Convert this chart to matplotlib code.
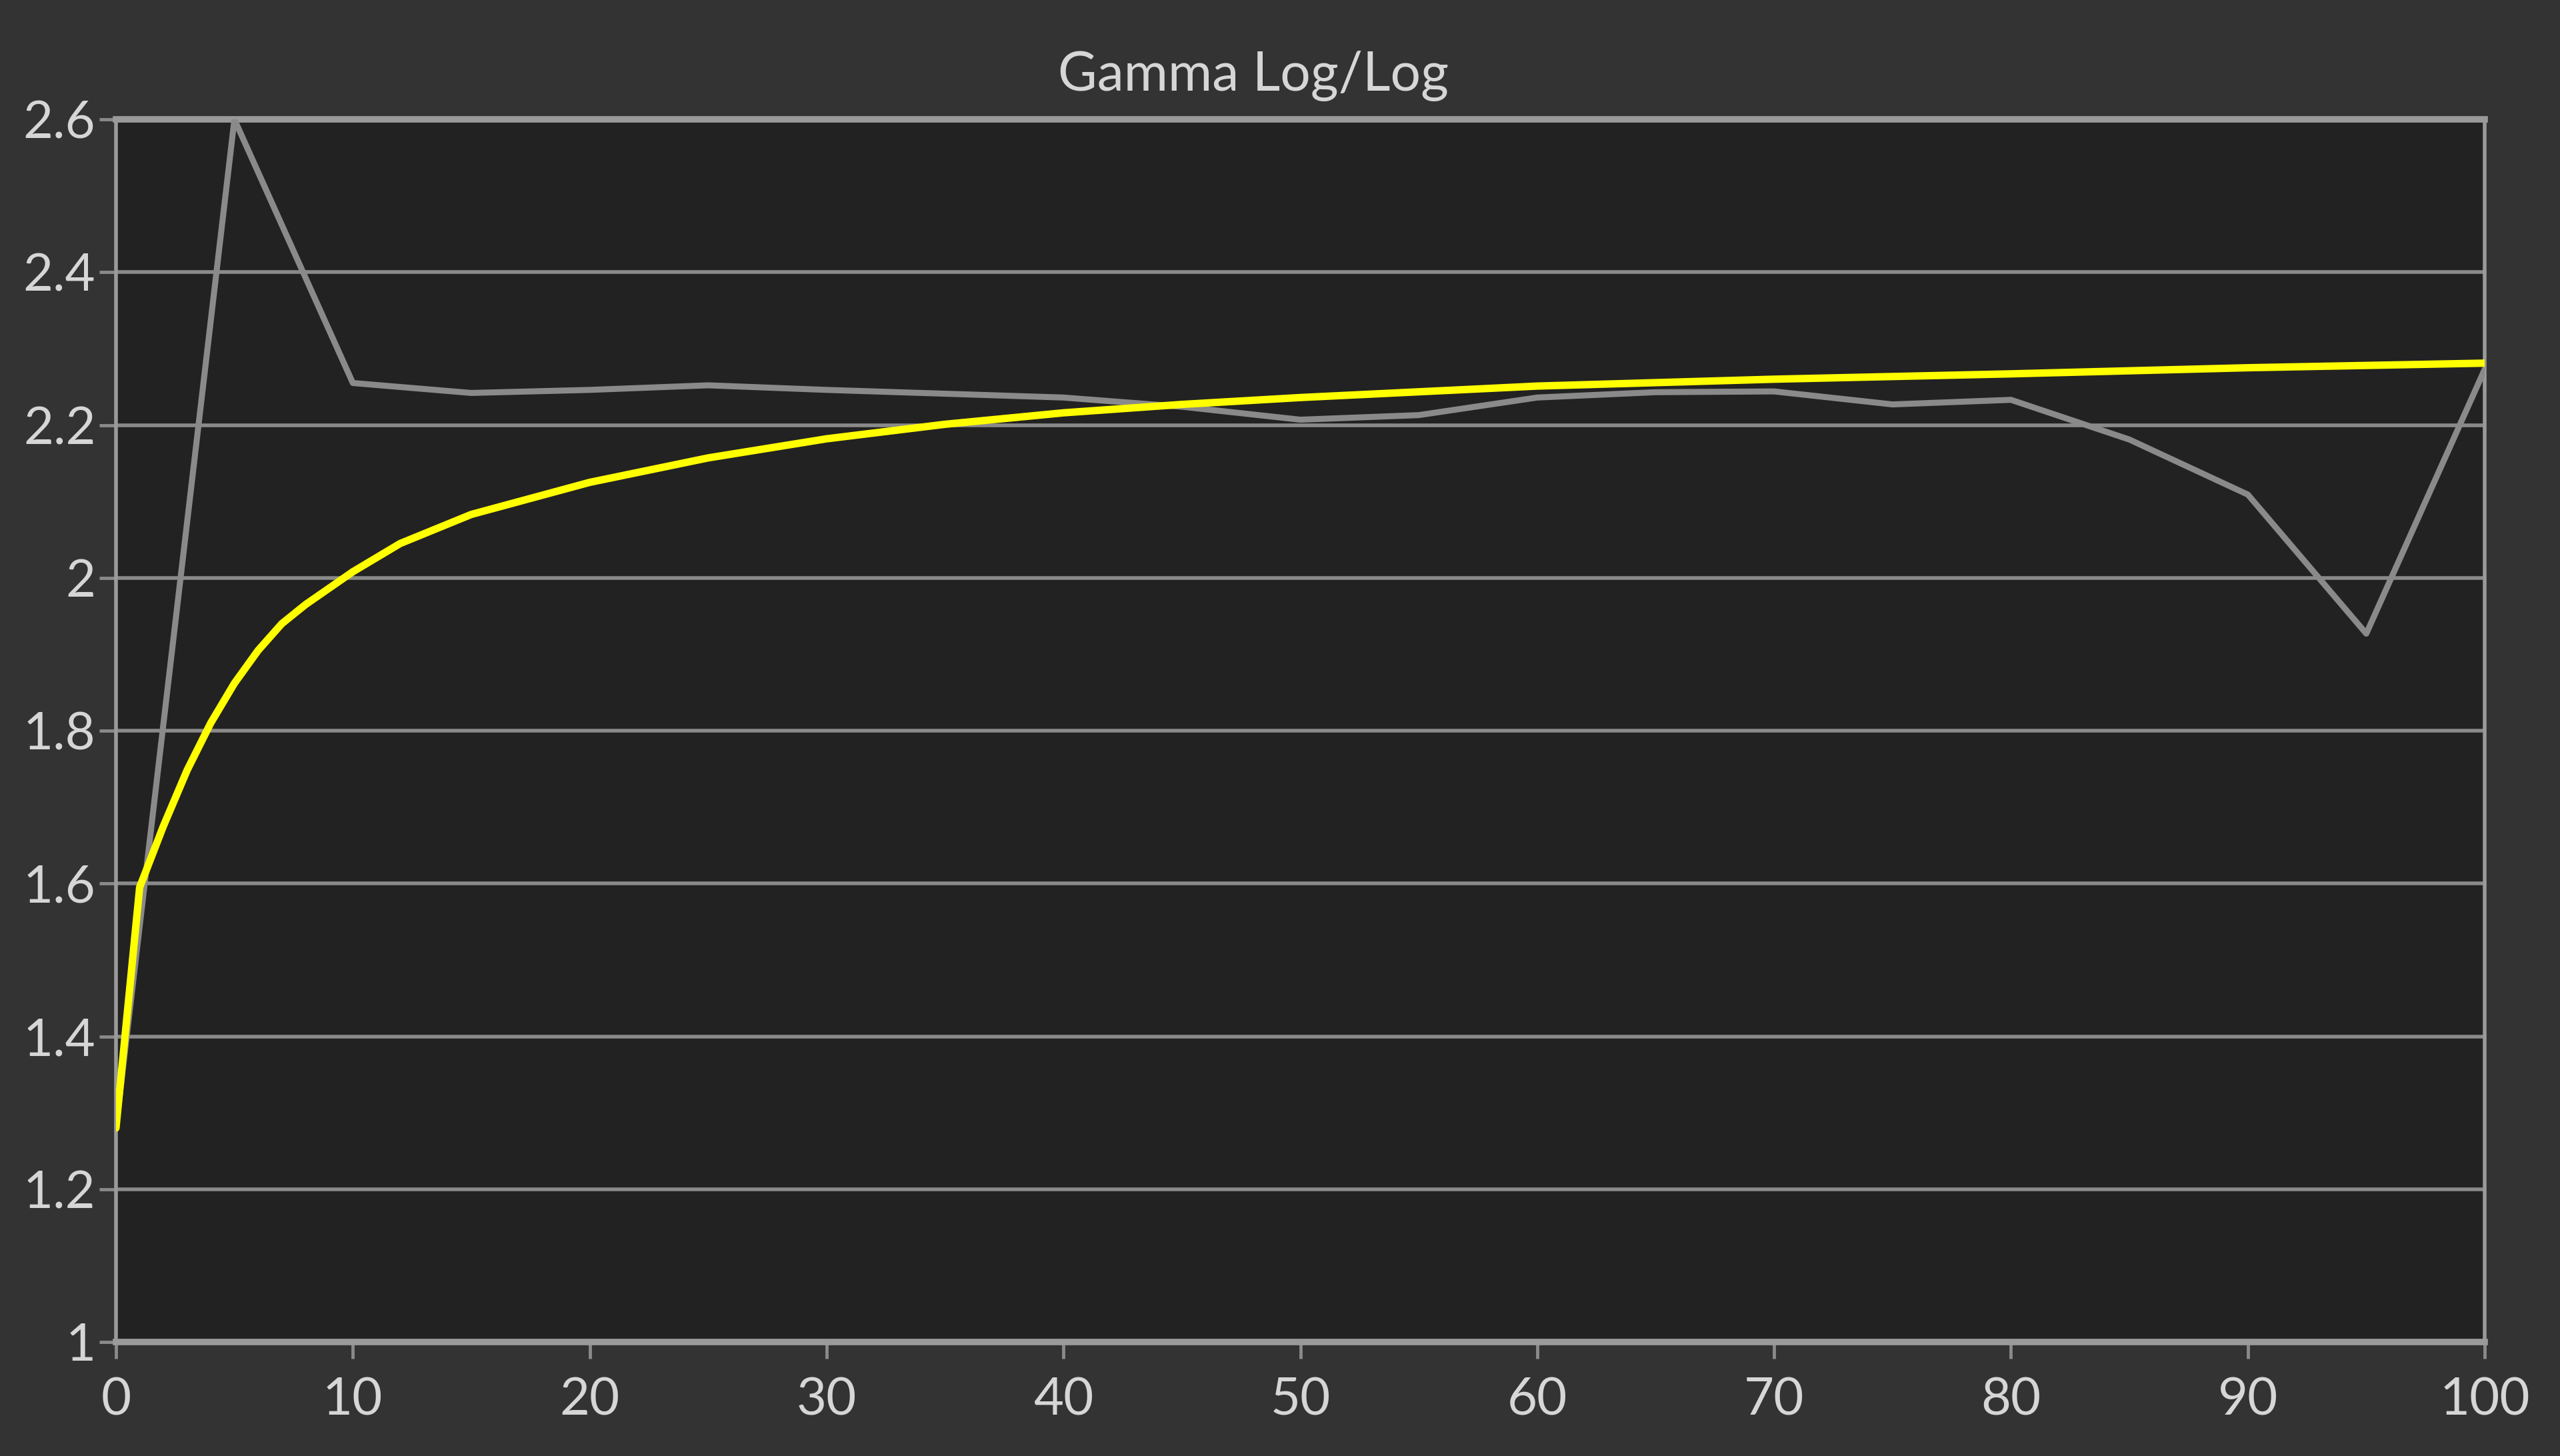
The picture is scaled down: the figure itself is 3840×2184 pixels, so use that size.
"""Gamma Log/Log chart: measured gamma vs target curve, dark calibration-report style."""
import matplotlib
matplotlib.use("Agg")
import matplotlib.pyplot as plt
from matplotlib.ticker import FuncFormatter

# ── Data ──────────────────────────────────────────────────────────────
measured_x = [0, 5, 10, 15, 20, 25, 30, 35, 40, 45, 50,
              55, 60, 65, 70, 75, 80, 85, 90, 95, 100]
measured_gamma = [1.28, 2.60, 2.255, 2.242, 2.246, 2.252, 2.246, 2.241, 2.236, 2.224, 2.207,
                  2.213, 2.236, 2.243, 2.244, 2.227, 2.233, 2.181, 2.109, 1.927, 2.273]

target_x = [0, 1, 2, 3, 4, 5, 6, 7, 8, 10, 12, 15, 20, 25, 30, 35, 40, 45,
            50, 60, 70, 80, 90, 100]
target_gamma = [1.28, 1.595, 1.675, 1.748, 1.81, 1.862, 1.905, 1.94, 1.965, 2.008, 2.045,
                2.083, 2.125, 2.157, 2.182, 2.201, 2.216, 2.227,
                2.236, 2.251, 2.260, 2.267, 2.275, 2.281]

x_ticks = [0, 10, 20, 30, 40, 50, 60, 70, 80, 90, 100]
y_ticks = [1.0, 1.2, 1.4, 1.6, 1.8, 2.0, 2.2, 2.4, 2.6]
title = "Gamma Log/Log"

# ── Style ─────────────────────────────────────────────────────────────
FIG_BG = "#333333"
AX_BG = "#222222"
GRID = "#8a8a8a"
TEXT = "#d6d6d6"
GRAY_LINE = "#8a8a8a"
YELLOW = "#ffff00"

plt.rcParams["font.family"] = ["Lato", "DejaVu Sans"]

fig = plt.figure(figsize=(38.4, 21.84), dpi=100, facecolor=FIG_BG)
ax = fig.add_axes([0.0453, 0.0783, 0.9253, 0.8397], facecolor=AX_BG)

ax.plot(measured_x, measured_gamma, color=GRAY_LINE, lw=6.5, zorder=3,
        solid_joinstyle="round", solid_capstyle="round")
ax.plot(target_x, target_gamma, color=YELLOW, lw=8, zorder=4,
        solid_joinstyle="round", solid_capstyle="round")

ax.set_xlim(0, 100)
ax.set_ylim(1.0, 2.6)
ax.set_xticks(x_ticks)
ax.set_yticks(y_ticks)
ax.yaxis.set_major_formatter(FuncFormatter(lambda v, _: f"{v:g}"))

ax.yaxis.grid(True, color=GRID, lw=4, zorder=1)
ax.xaxis.grid(False)
ax.set_axisbelow(True)

for side in ("top", "bottom"):
    ax.spines[side].set_color("#9a9a9a")
    ax.spines[side].set_linewidth(7)
for side in ("left", "right"):
    ax.spines[side].set_color("#9a9a9a")
    ax.spines[side].set_linewidth(4)

ax.tick_params(axis="both", colors=GRID, labelcolor=TEXT, labelsize=56,
               length=18, width=3.5)
ax.tick_params(axis="y", pad=4)
ax.tick_params(axis="x", pad=20)

fig.text(0.4895, 0.948, title, color=TEXT, fontsize=58, ha="center", va="center")

fig.savefig("out.png", facecolor=FIG_BG)
